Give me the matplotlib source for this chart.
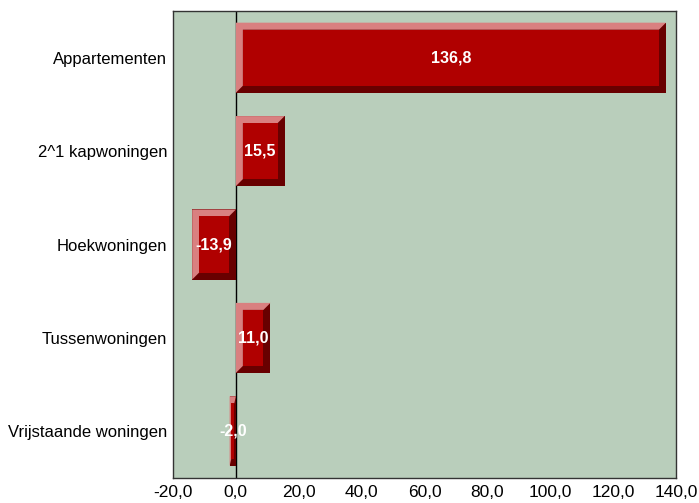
import numpy as np
import matplotlib.pyplot as plt
from matplotlib.patches import Polygon, Rectangle

plt.rcParams['font.family'] = ['Liberation Sans', 'DejaVu Sans']

categories = ['Appartementen', '2^1 kapwoningen', 'Hoekwoningen',
              'Tussenwoningen', 'Vrijstaande woningen']
values = [136.8, 15.5, -13.9, 11.0, -2.0]
xticks = [-20, 0, 20, 40, 60, 80, 100, 120, 140]

c_main = '#b00000'
c_light = '#d98080'
c_dark = '#680000'
bg = '#b9cebb'

fig = plt.figure(figsize=(6.99, 5.03), dpi=100)
ax = fig.add_axes([173 / 699, 1 - 478 / 503, (676 - 173) / 699, (478 - 11) / 503])
ax.set_facecolor(bg)
ax.set_xlim(-20, 140)
ax.set_ylim(len(categories) - 0.5, -0.5)

# bevel size in data units (~7 px)
bev_px = 7
bx0 = bev_px / (503 / 160)
by = bev_px / (467 / len(categories))
h = 0.375

ax.axvline(0, color='black', lw=1, zorder=1)

for i, v in enumerate(values):
    xl, xr = min(0, v), max(0, v)
    yt, yb = i - h, i + h
    bx = min(bx0, abs(v) / 4)
    ax.add_patch(Rectangle((xl, yt), xr - xl, yb - yt, facecolor=c_dark, lw=0, zorder=2))
    ax.add_patch(Polygon([(xl, yt), (xr, yt), (xr - bx, yt + by), (xl + bx, yt + by),
                          (xl + bx, yb - by), (xl, yb)], closed=True,
                         facecolor=c_light, lw=0, zorder=3))
    ax.add_patch(Rectangle((xl + bx, yt + by), xr - xl - 2 * bx, yb - yt - 2 * by,
                           facecolor=c_main, lw=0, zorder=4))
    ax.text(v / 2, i, f'{v:.1f}'.replace('.', ','), ha='center', va='center',
            color='white', fontsize=11.5, fontweight='bold', zorder=5)

ax.set_yticks(range(len(categories)))
ax.set_yticklabels(categories, fontsize=12)
ax.set_xticks(xticks)
ax.set_xticklabels([f'{t:.1f}'.replace('.', ',') for t in xticks], fontsize=12.5)
ax.tick_params(length=0)
ax.tick_params(axis='y', pad=4)
ax.tick_params(axis='x', pad=5)
for s in ax.spines.values():
    s.set_color('#333333')
    s.set_linewidth(1)

fig.savefig('out.png', dpi=100)
